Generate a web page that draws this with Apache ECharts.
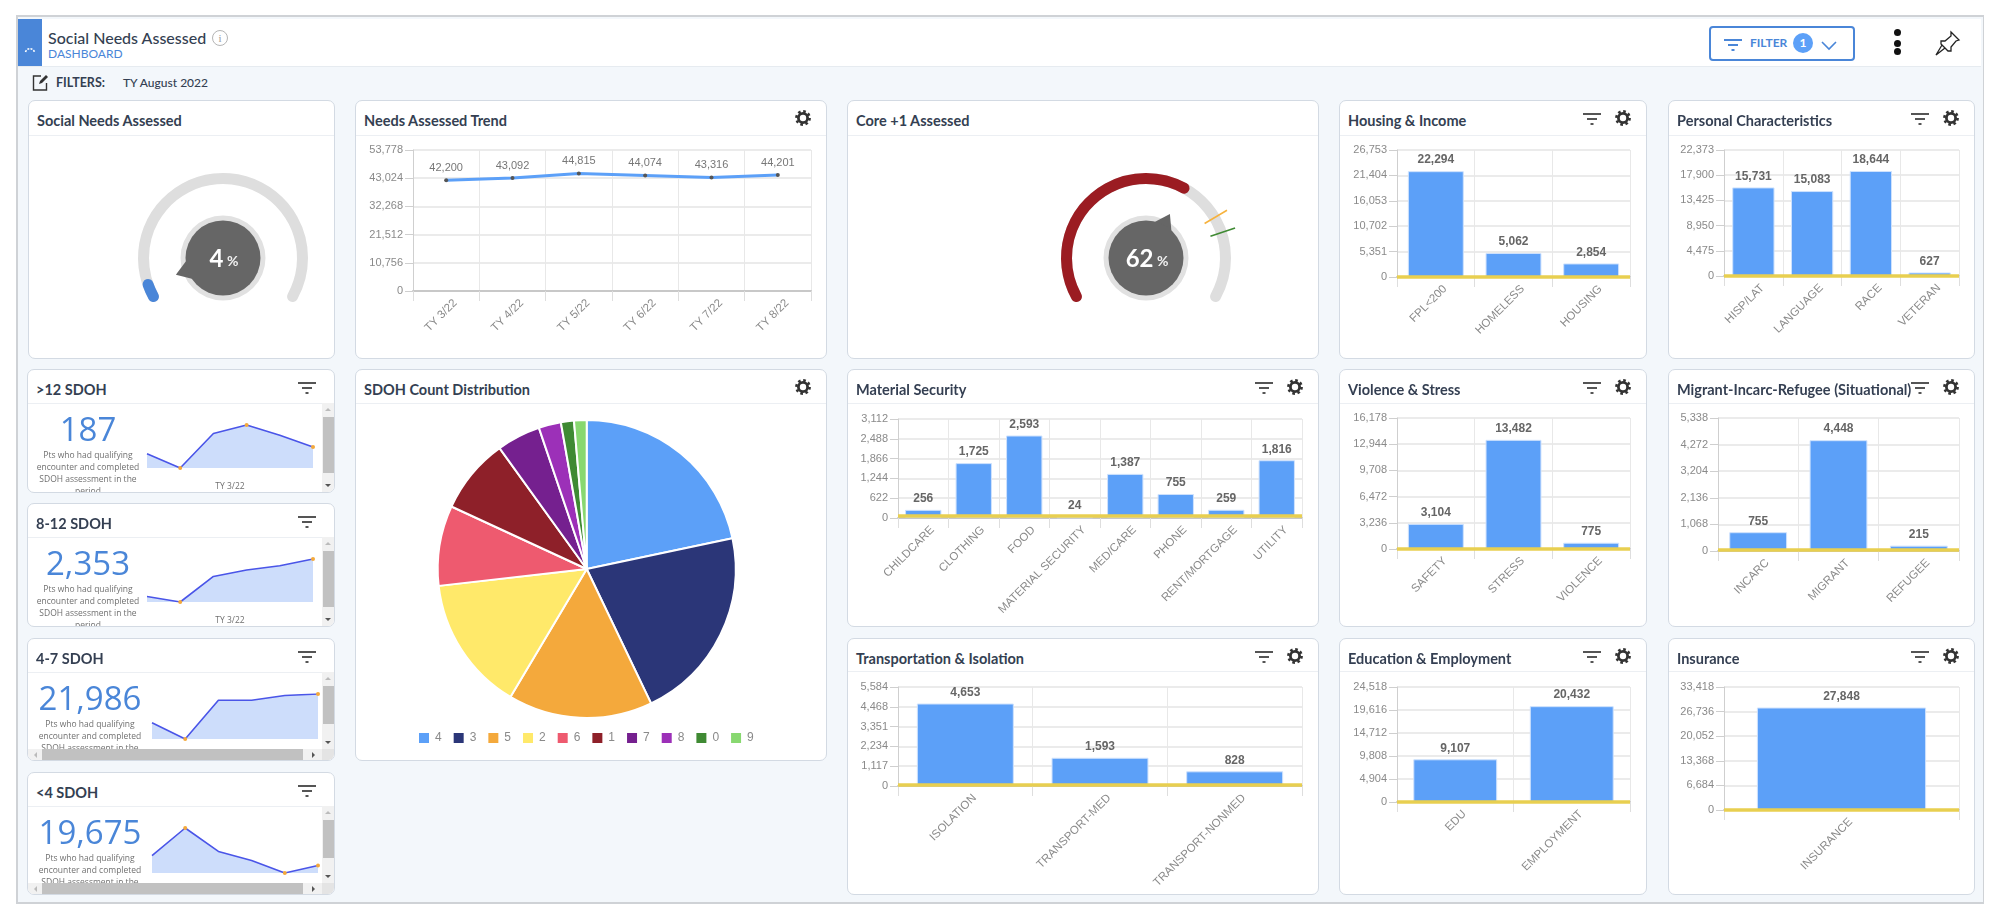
<!DOCTYPE html>
<html lang="en">
<head>
<meta charset="utf-8">
<title>Social Needs Assessed</title>
<script src="https://cdn.jsdelivr.net/npm/echarts@6/dist/echarts.min.js"></script>
<style>
    html, body { margin: 0; padding: 0; background: #fff; width: 2000px; height: 918px; overflow: hidden; font-family: Lato, "Noto Sans", sans-serif; }
    #page { position: relative; width: 2000px; height: 918px; }
    #frame { position: absolute; left: 16px; top: 15px; width: 1965px; height: 885px; background: #f3f7fb; border: 2px solid #cfd2d6; border-right-width: 1px; }
    #topbar { position: absolute; left: 18px; top: 19px; width: 1963px; height: 47px; background: #fff; border-bottom: 1px solid #e6ebf0; }
    #blue { position: absolute; left: 18px; top: 19px; width: 24px; height: 47px; background: #4a86d8; }
    .abs { position: absolute; }
    .card { position: absolute; background: #fff; border: 1px solid #d3dae3; border-radius: 7px; box-sizing: border-box; overflow: hidden; }
    .card-head { position: absolute; left: 0; top: 0; right: 0; border-bottom: 1px solid #eceff3; }
    .card-title { position: absolute; left: 8px; top: 11px; font-size: 14.5px; line-height: 18px; font-weight: 700; color: #343f52; white-space: nowrap; }
    .chart { position: absolute; left: 0; top: 0; }
    .big { position: absolute; text-align: center; font-size: 33px; line-height: 36px; color: #4a86d8; font-family: "Open Sans", sans-serif; }
    .desc { position: absolute; text-align: center; font-size: 8.5px; line-height: 12px; color: #707070; font-family: "Open Sans", sans-serif; white-space: nowrap; }
    .tri { position: absolute; width: 0; height: 0; border-style: solid; }
</style>
</head>
<body>
<div id="page">
    <div id="frame"></div>
    <div id="topbar"></div>
    <div id="blue"></div>
</div>

<script>
    // gauges
    var socialNeedsPct = 4;
    var corePlusOnePct = 62;
    var coreTargets = [75, 80];

    // trend
    var trendMonths = ['TY 3/22', 'TY 4/22', 'TY 5/22', 'TY 6/22', 'TY 7/22', 'TY 8/22'];
    var trendValues = [42200, 43092, 44815, 44074, 43316, 44201];
    var trendTicks = ['0', '10,756', '21,512', '32,268', '43,024', '53,778'];

    // sparklines (values are estimates except the last)
    var over12Spark = [175, 150, 211, 226, 208, 187];
    var from8to12Spark = [2045, 2000, 2210, 2263, 2297, 2353];
    var from4to7Spark = [20720, 20000, 21712, 21712, 21920, 21986];
    var under4Spark = [20458, 22691, 20806, 20081, 19066, 19675];

    // pie
    var pieNames = ['4', '3', '5', '2', '6', '1', '7', '8', '0', '9'];
    var pieValues = [9590, 9368, 6925, 6470, 3843, 3610, 2100, 1068, 626, 602];
    var pieColors = ['#5ca0f8', '#2b3678', '#f4a93c', '#ffe96a', '#ee5a6f', '#8e2029', '#75208f', '#9c30b8', '#3f8a33', '#88d870'];

    // bars
    var housingCats = ['FPL<200', 'HOMELESS', 'HOUSING'];
    var housingVals = [22294, 5062, 2854];
    var housingTicks = ['0', '5,351', '10,702', '16,053', '21,404', '26,753'];

    var personalCats = ['HISP/LAT', 'LANGUAGE', 'RACE', 'VETERAN'];
    var personalVals = [15731, 15083, 18644, 627];
    var personalTicks = ['0', '4,475', '8,950', '13,425', '17,900', '22,373'];

    var materialCats = ['CHILDCARE', 'CLOTHING', 'FOOD', 'MATERIAL SECURITY', 'MED/CARE', 'PHONE', 'RENT/MORTGAGE', 'UTILITY'];
    var materialVals = [256, 1725, 2593, 24, 1387, 755, 259, 1816];
    var materialTicks = ['0', '622', '1,244', '1,866', '2,488', '3,112'];

    var violenceCats = ['SAFETY', 'STRESS', 'VIOLENCE'];
    var violenceVals = [3104, 13482, 775];
    var violenceTicks = ['0', '3,236', '6,472', '9,708', '12,944', '16,178'];

    var migrantCats = ['INCARC', 'MIGRANT', 'REFUGEE'];
    var migrantVals = [755, 4448, 215];
    var migrantTicks = ['0', '1,068', '2,136', '3,204', '4,272', '5,338'];

    var transportCats = ['ISOLATION', 'TRANSPORT-MED', 'TRANSPORT-NONMED'];
    var transportVals = [4653, 1593, 828];
    var transportTicks = ['0', '1,117', '2,234', '3,351', '4,468', '5,584'];

    var educationCats = ['EDU', 'EMPLOYMENT'];
    var educationVals = [9107, 20432];
    var educationTicks = ['0', '4,904', '9,808', '14,712', '19,616', '24,518'];

    var insuranceCats = ['INSURANCE'];
    var insuranceVals = [27848];
    var insuranceTicks = ['0', '6,684', '13,368', '20,052', '26,736', '33,418'];

    var page = document.getElementById('page');
    var axisFont = '"Liberation Sans", Arial, sans-serif';

    function filterIcon(color) {
        return '<svg width="18" height="12" viewBox="0 0 18 12"><path d="M0 1h18M4 6h10M7.5 11h3" stroke="' + color + '" stroke-width="1.8" fill="none"/></svg>';
    }

    function gearIcon() {
        return '<svg width="16" height="16" viewBox="0 0 16 16"><circle cx="8" cy="8" r="4.6" stroke="#333" stroke-width="2.8" fill="none"/>' +
            '<circle cx="8" cy="8" r="6.6" stroke="#333" stroke-width="2.6" stroke-dasharray="2.6 2.58" fill="none"/></svg>';
    }

    function html(x, y, content, css) {
        var d = document.createElement('div');
        d.className = 'abs';
        d.style.left = x + 'px';
        d.style.top = y + 'px';
        if (css) d.style.cssText += css;
        d.innerHTML = content;
        page.appendChild(d);
        return d;
    }

    function addCard(x, y, r, b, headBottom, title, icons) {
        var card = document.createElement('div');
        card.className = 'card';
        card.style.left = x + 'px';
        card.style.top = y + 'px';
        card.style.width = (r - x) + 'px';
        card.style.height = (b - y) + 'px';
        card.innerHTML = '<div class="card-head" style="height:' + (headBottom - y - 1) + 'px"></div><div class="card-title">' + title + '</div>';
        page.appendChild(card);
        if (icons.indexOf('gear') >= 0) {
            html(r - 32, y + 10, gearIcon());
        }
        if (icons.indexOf('filter') >= 0) {
            var fx = icons.indexOf('gear') >= 0 ? r - 64 : r - 37;
            html(fx, y + 9, filterIcon('#555'));
        }
        return card;
    }

    function addChart(card, option) {
        var d = document.createElement('div');
        d.className = 'chart';
        d.style.width = card.clientWidth + 'px';
        d.style.height = card.clientHeight + 'px';
        card.appendChild(d);
        var c = echarts.init(d);
        option.animation = false;
        c.setOption(option);
        return c;
    }

    function yAxisFor(ticks, top) {
        return {
            type: 'value', min: 0, max: top, interval: top / 5,
            axisLine: { show: true, lineStyle: { color: '#cfcfcf', width: 1 } },
            axisTick: { show: true, length: 8, lineStyle: { color: '#cfcfcf' } },
            axisLabel: {
                margin: 10, fontSize: 11, color: '#8a8a8a', fontFamily: axisFont,
                formatter: function (v, i) { return ticks[i]; }
            },
            splitLine: { show: true, lineStyle: { color: '#ebebeb', width: 2 } }
        };
    }

    function xAxisFor(cats) {
        return {
            type: 'category', data: cats,
            axisLine: { show: true, lineStyle: { color: '#c8c8c8', width: 2 } },
            axisTick: { show: true, length: 10, lineStyle: { color: '#dedede' } },
            splitLine: { show: true, lineStyle: { color: '#e8e8e8', width: 1 } },
            axisLabel: {
                interval: 0, rotate: 45, margin: 1, verticalAlign: 'top', padding: [7, 0, 0, 0],
                fontSize: 11.5, color: '#8a8a8a', fontFamily: axisFont
            }
        };
    }

    function barCard(cardBox, headBottom, title, plot, cats, vals, ticks, lineValue) {
        var card = addCard(cardBox[0], cardBox[1], cardBox[2], cardBox[3], headBottom, title, ['filter', 'gear']);
        addChart(card, {
            grid: { left: plot[0] - cardBox[0] - 1, top: plot[1] - cardBox[1] - 1, width: plot[2] - plot[0], height: plot[3] - plot[1] },
            xAxis: xAxisFor(cats),
            yAxis: yAxisFor(ticks, parseInt(ticks[5].replace(/,/g, ''), 10)),
            series: [{
                type: 'bar', data: vals, barCategoryGap: '28%',
                itemStyle: { color: '#5ca0f8', borderColor: '#cfe2fd', borderWidth: 1 },
                label: {
                    show: true, position: 'top', fontSize: 12, fontWeight: 'bold', color: '#666', fontFamily: axisFont,
                    formatter: function (p) { return p.value.toLocaleString('en-US'); }
                },
                markLine: {
                    silent: true, symbol: 'none', label: { show: false },
                    lineStyle: { color: '#e8cf50', width: 3.5, type: 'solid' },
                    data: [{ yAxis: lineValue }]
                }
            }]
        });
    }

    function gaugeCard(cardBox, headBottom, title, centre, pct, color, targets) {
        var card = addCard(cardBox[0], cardBox[1], cardBox[2], cardBox[3], headBottom, title, []);
        var c = [centre[0] - cardBox[0] - 1, centre[1] - cardBox[1] - 1];
        var base = {
            type: 'gauge', center: c, radius: 85, min: 0, max: 100, startAngle: 209, endAngle: -29,
            axisTick: { show: false }, splitLine: { show: false }, axisLabel: { show: false },
            title: { show: false }, detail: { show: false }, pointer: { show: false },
            axisLine: { show: false }, progress: { show: false }
        };
        var series = [];
        // anchors paint high inside a series, so every layer needs its own z
        series.push(Object.assign({}, base, {
            z: 1,
            data: [{ value: 0 }],
            anchor: { show: true, showAbove: true, size: 85, itemStyle: { color: '#e1e1e1' } }
        }));
        series.push(Object.assign({}, base, {
            z: 2,
            data: [{ value: pct }],
            axisLine: { show: true, roundCap: true, lineStyle: { width: 11, color: [[1, '#dedede']] } },
            progress: { show: true, roundCap: true, width: 11, itemStyle: { color: color } },
            pointer: { show: true, icon: 'triangle', width: 40, length: 30, offsetCenter: [0, -20], itemStyle: { color: '#666' } },
            anchor: { show: true, showAbove: true, size: 75, itemStyle: { color: '#666' } }
        }));
        if (targets) {
            series.push(Object.assign({}, base, {
                z: 3,
                data: targets.map(function (t, i) {
                    return { value: t, itemStyle: { color: i === 0 ? '#f6b23e' : '#3f8a33' } };
                }),
                pointer: { show: true, icon: 'rect', width: 1.6, length: 26, offsetCenter: [0, -68] }
            }));
        }
        series.push(Object.assign({}, base, {
            z: 4,
            data: [{ value: pct }],
            detail: {
                show: true, offsetCenter: [1, 1],
                formatter: function (v) { return '{n|' + v + '}{p| %}'; },
                rich: {
                    n: { fontSize: 24, fontWeight: 'bold', color: '#fff', fontFamily: 'Lato' },
                    p: { fontSize: 14, fontWeight: 'bold', color: '#f0f0f0', fontFamily: 'Lato', padding: [4, 0, 0, 0] }
                }
            }
        }));
        addChart(card, { series: series });
    }

    function sparkCard(cardBox, headBottom, title, big, vals, left, bigX, withHScroll) {
        var x = cardBox[0], y = cardBox[1], r = cardBox[2], b = cardBox[3];
        var card = addCard(x, y, r, b, headBottom, title, ['filter']);
        var lo = Math.min.apply(null, vals), hi = Math.max.apply(null, vals);
        var keep = [vals.indexOf(lo), vals.indexOf(hi), vals.length - 1];
        addChart(card, {
            grid: { left: left - x - 1, top: 55, width: 166, height: 45 },
            xAxis: {
                type: 'category', data: trendMonths, boundaryGap: false,
                axisLine: { show: false }, axisTick: { show: false }, axisLabel: { show: false },
                name: withHScroll ? '' : trendMonths[0], nameLocation: 'middle', nameGap: 14,
                nameTextStyle: { fontSize: 8.5, color: '#707070', fontFamily: 'Open Sans' }
            },
            yAxis: { type: 'value', min: lo, max: hi, show: false },
            series: [{
                type: 'line', data: vals, showAllSymbol: true,
                symbol: 'circle',
                symbolSize: function (v, p) { return keep.indexOf(p.dataIndex) >= 0 ? 4 : 0; },
                itemStyle: { color: '#f4a93c' },
                lineStyle: { color: '#4a55e8', width: 1.6 },
                areaStyle: { color: '#cdddfb', opacity: 1 }
            }]
        });
        var t = document.createElement('div');
        t.className = 'big';
        t.style.left = (bigX - x - 60) + 'px';
        t.style.width = '120px';
        t.style.top = '41px';
        t.textContent = big;
        card.appendChild(t);
        var l = document.createElement('div');
        l.className = 'desc';
        l.style.left = (bigX - x - 60) + 'px';
        l.style.width = '120px';
        l.style.top = '79px';
        l.innerHTML = 'Pts who had qualifying<br>encounter and completed<br>SDOH assessment in the<br>period';
        card.appendChild(l);

        // scrollbars, as the browser paints them over the card body
        var head = headBottom - y - 1, w = r - x - 2, h = b - y - 2;
        var sb = document.createElement('div');
        var bottomGap = withHScroll ? 11 : 0;
        sb.style.cssText = 'position:absolute;left:' + (w - 12) + 'px;width:12px;top:' + head + 'px;height:' + (h - head - bottomGap) + 'px;background:#f1f1f1;';
        var thumbH = withHScroll ? 38 : 56;
        sb.innerHTML = '<div style="position:absolute;left:1px;width:11px;top:14px;height:' + thumbH + 'px;background:#c1c1c1"></div>' +
            '<div class="tri" style="left:3px;top:5px;border-width:0 3px 3px 3px;border-color:transparent transparent #bbb transparent"></div>' +
            '<div class="tri" style="left:3px;bottom:5px;border-width:3px 3px 0 3px;border-color:#555 transparent transparent transparent"></div>';
        card.appendChild(sb);
        if (withHScroll) {
            var hb = document.createElement('div');
            hb.style.cssText = 'position:absolute;left:0;top:' + (h - 11) + 'px;width:' + w + 'px;height:11px;background:#f1f1f1;';
            hb.innerHTML = '<div style="position:absolute;left:14px;width:261px;top:0;height:11px;background:#c1c1c1"></div>' +
                '<div style="position:absolute;left:294px;width:12px;top:0;height:11px;background:#e4e4e4"></div>' +
                '<div class="tri" style="left:6px;top:3px;border-width:3px 3px 3px 0;border-color:transparent #bbb transparent transparent"></div>' +
                '<div class="tri" style="left:284px;top:3px;border-width:3px 0 3px 3px;border-color:transparent transparent transparent #555"></div>';
            card.appendChild(hb);
        }
    }

    // page header
    html(48, 27, 'Social Needs Assessed', 'font-size:16px;line-height:22px;font-weight:500;color:#343f52;white-space:nowrap;');
    html(48, 47, 'DASHBOARD', 'font-size:12px;line-height:14px;color:#4a86d8;white-space:nowrap;');
    html(212, 30, 'i', 'width:14px;height:14px;border:1px solid #b5b5b5;border-radius:50%;text-align:center;font-size:11px;line-height:14px;color:#999;font-family:serif;');
    html(24, 37, '<svg width="12" height="8" viewBox="0 0 12 8"><path d="M1.5 7A4.7 4.7 0 0 1 10.5 7" stroke="#fff" stroke-width="1.6" stroke-dasharray="2 1.2" fill="none"/></svg>');
    html(32, 74, '<svg width="17" height="17" viewBox="0 0 17 17"><path d="M9 2H1.5v14h13V9" stroke="#333" stroke-width="1.4" fill="none"/><path d="M7 10l1-3 6-6 2 2-6 6z" fill="#333"/></svg>');
    html(56, 75, 'FILTERS:', 'font-size:12.5px;line-height:16px;font-weight:700;color:#343f52;white-space:nowrap;');
    html(123, 75, 'TY August 2022', 'font-size:12px;line-height:16px;font-weight:500;color:#343f52;white-space:nowrap;');

    html(1709, 26, '', 'width:142px;height:31px;border:2px solid #4a86d8;border-radius:4px;background:#fff;');
    html(1724, 35, filterIcon('#4a86d8'));
    html(1750, 35, 'FILTER', 'font-size:12px;line-height:16px;font-weight:700;color:#4a86d8;');
    html(1793, 33, '1', 'width:20px;height:20px;border-radius:50%;background:#5ca0f8;color:#fff;text-align:center;font-size:12px;line-height:20px;font-weight:700;');
    html(1821, 35, '<svg width="16" height="10" viewBox="0 0 16 10"><path d="M1 1l7 7 7-7" stroke="#4a86d8" stroke-width="1.6" fill="none"/></svg>');
    html(1894, 29, '', 'width:7px;height:7px;border-radius:50%;background:#111;');
    html(1894, 40, '', 'width:7px;height:7px;border-radius:50%;background:#111;');
    html(1894, 48, '', 'width:7px;height:7px;border-radius:50%;background:#111;');
    html(1935, 30, '<svg width="26" height="26" viewBox="0 0 26 26"><path d="M16 2l8 8-3 1-5 6 0 4-3 0-7-7 0-3 4 0 6-5z M7 15L1 25l9-7" stroke="#222" stroke-width="1.3" fill="#fff"/></svg>');

    // gauges
    gaugeCard([28, 100, 335, 359], 135, 'Social Needs Assessed', [223, 258], socialNeedsPct, '#4a86d8');
    gaugeCard([847, 100, 1319, 359], 135, 'Core +1 Assessed', [1146, 258], corePlusOnePct, '#9b1c22', coreTargets);

    // trend
    var trendCard = addCard(355, 100, 827, 359, 135, 'Needs Assessed Trend', ['gear']);
    addChart(trendCard, {
        grid: { left: 413 - 356, top: 150 - 101, width: 398, height: 141 },
        xAxis: xAxisFor(trendMonths),
        yAxis: yAxisFor(trendTicks, 53778),
        series: [{
            type: 'line', data: trendValues, symbol: 'circle', symbolSize: 4,
            itemStyle: { color: '#555' },
            lineStyle: { color: '#5ca0f8', width: 3 },
            label: {
                show: true, position: 'top', distance: 5, fontSize: 11, color: '#777', fontFamily: axisFont,
                formatter: function (p) { return p.value.toLocaleString('en-US'); }
            }
        }]
    });

    // left column
    sparkCard([27, 369, 335, 493], 403, '&gt;12 SDOH', '187', over12Spark, 147, 87, false);
    sparkCard([27, 503, 335, 627], 537, '8-12 SDOH', '2,353', from8to12Spark, 147, 87, false);
    sparkCard([27, 638, 335, 761], 672, '4-7 SDOH', '21,986', from4to7Spark, 152, 89, true);
    sparkCard([27, 772, 335, 895], 806, '&lt;4 SDOH', '19,675', under4Spark, 152, 89, true);

    // pie
    var pieCard = addCard(355, 369, 827, 761, 403, 'SDOH Count Distribution', ['gear']);
    addChart(pieCard, {
        legend: {
            data: pieNames, bottom: 10, left: 56, itemWidth: 12, itemHeight: 12, itemGap: 10,
            icon: 'rect', textStyle: { fontSize: 12, color: '#8a8a8a', fontFamily: axisFont }
        },
        series: [{
            type: 'pie', center: [586.7 - 356, 569 - 370], radius: 149, startAngle: 90, clockwise: true,
            label: { show: false }, labelLine: { show: false },
            itemStyle: { borderColor: '#fff', borderWidth: 2 },
            data: pieNames.map(function (n, i) {
                return { name: n, value: pieValues[i], itemStyle: { color: pieColors[i] } };
            })
        }]
    });

    // bars
    barCard([1339, 100, 1647, 359], 135, 'Housing &amp; Income', [1397, 150, 1630, 277], housingCats, housingVals, housingTicks, 100);
    barCard([1668, 100, 1975, 359], 135, 'Personal Characteristics', [1724, 150, 1959, 276], personalCats, personalVals, personalTicks, 100);
    barCard([847, 369, 1319, 627], 403, 'Material Security', [898, 419, 1302, 518], materialCats, materialVals, materialTicks, 85);
    barCard([1339, 369, 1647, 627], 403, 'Violence &amp; Stress', [1397, 418, 1630, 549], violenceCats, violenceVals, violenceTicks, 90);
    barCard([1668, 369, 1975, 627], 403, 'Migrant-Incarc-Refugee (Situational)', [1718, 418, 1959, 551], migrantCats, migrantVals, migrantTicks, 60);
    barCard([847, 638, 1319, 895], 671, 'Transportation &amp; Isolation', [898, 687, 1302, 786], transportCats, transportVals, transportTicks, 70);
    barCard([1339, 638, 1647, 895], 671, 'Education &amp; Employment', [1397, 687, 1630, 802], educationCats, educationVals, educationTicks, 100);
    barCard([1668, 638, 1975, 895], 671, 'Insurance', [1724, 687, 1959, 810], insuranceCats, insuranceVals, insuranceTicks, 100);
</script>
</body>
</html>
